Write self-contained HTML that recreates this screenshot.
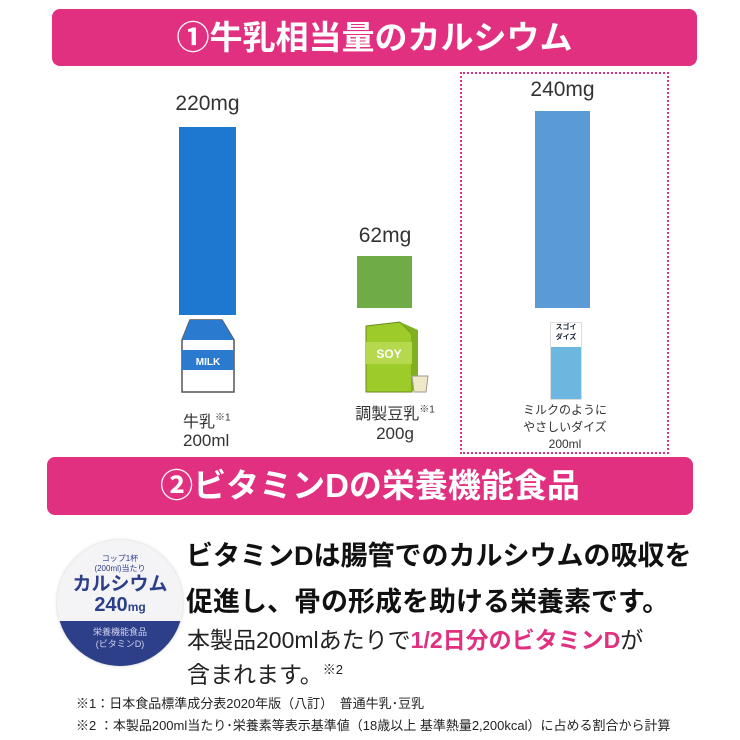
<!DOCTYPE html>
<html><head><meta charset="utf-8"><style>
body{margin:0;width:740px;height:740px;background:#fff;position:relative;overflow:hidden;font-family:"Liberation Sans","Noto Sans CJK JP",sans-serif;}
.a{position:absolute;}
.ban{position:absolute;background:#e1307f;border-radius:8px;color:#fff;font-weight:bold;text-align:center;font-size:33px;}
.t{position:absolute;color:#333;text-align:center;}
</style></head><body>
<div class="ban" style="left:52px;top:9px;width:645px;height:57px;line-height:57px;">①牛乳相当量のカルシウム</div>
<div class="a" style="left:460px;top:72px;width:205px;height:378px;border:2px dotted #e1307f;"></div>

<div class="t" style="left:150px;top:92px;width:115px;font-size:21px;">220mg</div>
<div class="a" style="left:179px;top:127px;width:57px;height:188px;background:#1f78cf;"></div>
<div class="t" style="left:330px;top:224px;width:110px;font-size:21px;">62mg</div>
<div class="a" style="left:357px;top:256px;width:55px;height:52px;background:#6fac46;"></div>
<div class="t" style="left:505px;top:78px;width:115px;font-size:21px;">240mg</div>
<div class="a" style="left:535px;top:111px;width:55px;height:197px;background:#5b9bd5;"></div>

<svg class="a" style="left:178px;top:318px" width="58" height="76">
<polygon points="12,2 44,2 56,22 56,74 4,74 4,22" fill="#fff" stroke="#555" stroke-width="1.5"/>
<polygon points="12,2 44,2 56,22 4,22" fill="#2a7bd0"/>
<rect x="4" y="32" width="52" height="20" fill="#2a7bd0"/>
<text x="30" y="47" font-size="10" font-weight="bold" fill="#fff" text-anchor="middle" font-family="Liberation Sans">MILK</text>
</svg>
<svg class="a" style="left:360px;top:314px" width="75" height="80">
<polygon points="6,12 40,8 52,20 52,78 6,78" fill="#9ccb2a" stroke="#6a8a1a"/>
<polygon points="40,8 52,20 52,78 58,70 58,16" fill="#80b020"/>
<rect x="6" y="28" width="46" height="22" fill="#b5d84c"/>
<text x="29" y="44" font-size="12" font-weight="bold" fill="#fff" text-anchor="middle" font-family="Liberation Sans">SOY</text>
<path d="M52,62 L68,62 L66,78 L54,78Z" fill="#f1e8c8" stroke="#999"/>
</svg>
<div class="a" style="left:550px;top:322px;width:30px;height:76px;background:#6cb7e0;border:1px solid #ddd;">
<div style="background:#fff;height:24px;font-size:7px;color:#123;text-align:center;font-weight:bold;line-height:10px;">スゴイ<br>ダイズ</div></div>

<div class="t" style="left:183px;top:408px;width:90px;font-size:16px;text-align:left;">牛乳<sup style="font-size:10px">※1</sup></div>
<div class="t" style="left:183px;top:431px;width:80px;font-size:17px;text-align:left;">200ml</div>
<div class="t" style="left:330px;top:400px;width:130px;font-size:16px;">調製豆乳<sup style="font-size:10px">※1</sup></div>
<div class="t" style="left:330px;top:424px;width:130px;font-size:17px;">200g</div>
<div class="t" style="left:510px;top:402px;width:110px;font-size:12px;line-height:17px;">ミルクのように<br>やさしいダイズ<br>200ml</div>

<div class="ban" style="left:47px;top:457px;width:646px;height:58px;line-height:58px;">②ビタミンDの栄養機能食品</div>

<div class="a" style="left:57px;top:540px;width:126px;height:126px;border-radius:50%;background:#f4f4f6;overflow:hidden;box-shadow:0 0 3px #ccc;">
<div style="text-align:center;color:#2e3f8a;font-size:8px;margin-top:14px;line-height:10px;">コップ1杯<br>(200ml)当たり</div>
<div style="text-align:center;color:#2e3f8a;font-size:19px;font-weight:bold;line-height:21px;">カルシウム</div>
<div style="text-align:center;color:#2e3f8a;font-size:20px;font-weight:bold;line-height:20px;">240<span style="font-size:12px">mg</span></div>
<div style="background:#2e3f8a;color:#cfd3ee;font-size:9px;text-align:center;height:40px;margin-top:4px;padding-top:5px;line-height:12px;">栄養機能食品<br>(ビタミンD)</div>
</div>

<div class="a" style="left:186px;top:533px;font-size:27px;font-weight:bold;color:#111;line-height:46px;">ビタミンDは腸管でのカルシウムの吸収を<br>促進し、骨の形成を助ける栄養素です。</div>
<div class="a" style="left:187px;top:625px;font-size:23px;color:#222;line-height:30px;">本製品200mlあたりで<span style="color:#e1307f;font-weight:bold;font-size:23px;">1/2日分のビタミンD</span>が<br>含まれます。<sup style="font-size:13px">※2</sup></div>
<div class="a" style="left:76px;top:693px;font-size:13px;color:#222;">※1：日本食品標準成分表2020年版（八訂）　普通牛乳･豆乳</div>
<div class="a" style="left:76px;top:715px;font-size:13px;color:#222;white-space:nowrap;">※2 ：本製品200ml当たり･栄養素等表示基準値（18歳以上 基準熱量2,200kcal）に占める割合から計算</div>
</body></html>
